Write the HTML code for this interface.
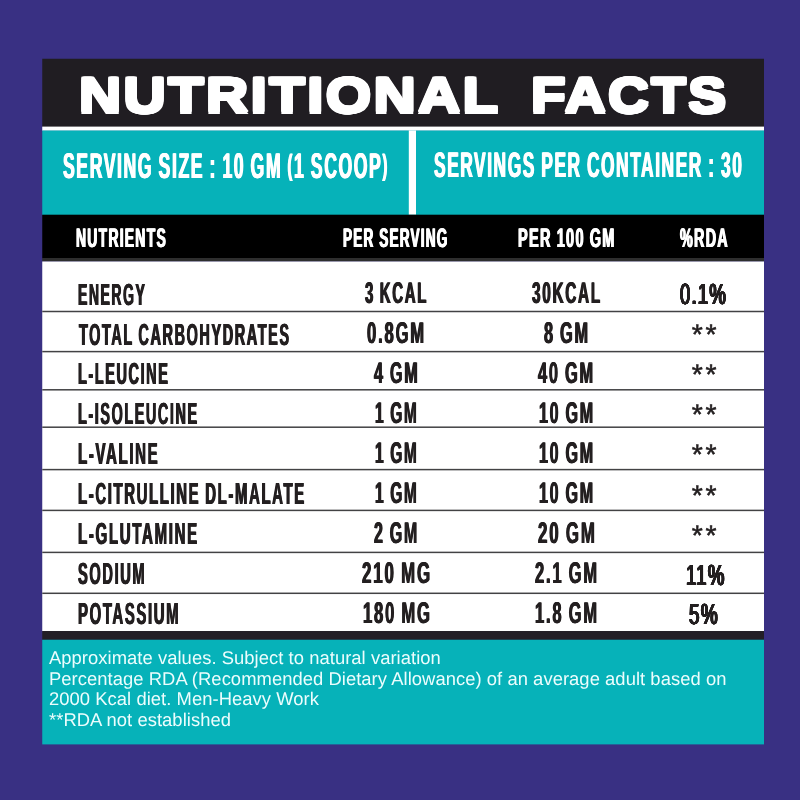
<!DOCTYPE html>
<html lang="en"><head><meta charset="utf-8"><title>Nutritional Facts</title>
<style>
html,body{margin:0;padding:0}
h1{margin:0;font:inherit}
body{width:800px;height:800px;background:#393083;position:relative;overflow:hidden;font-family:"Liberation Sans",Arial,sans-serif;text-rendering:geometricPrecision}
svg{position:absolute;left:0;top:0}
.t{position:absolute;display:block;white-space:pre;line-height:1em;transform-origin:0 0;font-weight:700;color:#fff}
.k{color:#231f20}
.r{font-weight:400}
.pa{font-size:.82em;position:relative;top:-.085em}
.st{position:absolute;font-weight:400;color:#231f20;line-height:1em;white-space:pre;-webkit-text-stroke:0.55px currentColor}
.fn{position:absolute;left:49px;margin:0;color:#ecfdfd;white-space:pre;letter-spacing:0.05px}
</style></head><body>
<svg width="800" height="800" viewBox="0 0 800 800" shape-rendering="geometricPrecision">

<rect x="42.25" y="58.75" width="721.75" height="68.25" fill="#201d22"/>
<rect x="42.25" y="126.60" width="721.75" height="4.20" fill="#fff"/>
<rect x="42.25" y="130.50" width="721.75" height="84.50" fill="#06b2b9"/>
<rect x="408.80" y="130.40" width="7.20" height="84.30" fill="#fff"/>
<rect x="42.25" y="214.70" width="721.75" height="43.50" fill="#000"/>
<rect x="42.25" y="258.00" width="721.75" height="3.50" fill="#2e2e2e"/>
<rect x="42.25" y="261.50" width="721.75" height="369.70" fill="#fff"/>
<rect x="42.25" y="631.00" width="721.75" height="8.90" fill="#231f26"/>
<rect x="42.25" y="639.75" width="721.75" height="104.65" fill="#06b2b9"/>
<rect x="42.25" y="310.75" width="721.75" height="1.50" fill="#424244"/>
<rect x="42.25" y="350.85" width="721.75" height="1.50" fill="#424244"/>
<rect x="42.25" y="389.05" width="721.75" height="1.50" fill="#424244"/>
<rect x="42.25" y="426.45" width="721.75" height="1.50" fill="#424244"/>
<rect x="42.25" y="468.85" width="721.75" height="1.50" fill="#424244"/>
<rect x="42.25" y="509.65" width="721.75" height="1.50" fill="#424244"/>
<rect x="42.25" y="551.65" width="721.75" height="1.50" fill="#424244"/>
<rect x="42.25" y="592.55" width="721.75" height="1.50" fill="#424244"/>
</svg>
<main>
<header><h1><span id="t1" class="t" style="left:78.95px;top:71.26px;font-size:49.78px;transform:scaleX(1.1739);letter-spacing:0.04em;word-spacing:0.00em;text-shadow:-1.28px -1.50px 0 currentColor,-1.28px 0.00px 0 currentColor,-1.28px 1.50px 0 currentColor,-0.64px -1.50px 0 currentColor,-0.64px 0.00px 0 currentColor,-0.64px 1.50px 0 currentColor,0.00px -1.50px 0 currentColor,0.00px 1.50px 0 currentColor,0.64px -1.50px 0 currentColor,0.64px 0.00px 0 currentColor,0.64px 1.50px 0 currentColor,1.28px -1.50px 0 currentColor,1.28px 0.00px 0 currentColor,1.28px 1.50px 0 currentColor;">NUTRITIONAL</span> <span id="t2" class="t" style="left:530.56px;top:71.21px;font-size:49.78px;transform:scaleX(1.1399);letter-spacing:0.04em;word-spacing:0.00em;text-shadow:-1.32px -1.50px 0 currentColor,-1.32px 0.00px 0 currentColor,-1.32px 1.50px 0 currentColor,-0.66px -1.50px 0 currentColor,-0.66px 0.00px 0 currentColor,-0.66px 1.50px 0 currentColor,0.00px -1.50px 0 currentColor,0.00px 1.50px 0 currentColor,0.66px -1.50px 0 currentColor,0.66px 0.00px 0 currentColor,0.66px 1.50px 0 currentColor,1.32px -1.50px 0 currentColor,1.32px 0.00px 0 currentColor,1.32px 1.50px 0 currentColor;">FACTS</span></h1></header>
<section class="serving"><span id="s1" class="t" style="left:62.97px;top:148.97px;font-size:35.76px;transform:scaleX(0.4931);letter-spacing:0.09em;word-spacing:-0.06em;text-shadow:1.01px 0 0 currentColor,-1.01px 0 0 currentColor;">SERVING SIZE : 10 GM <span class="pa">(</span>1 SCOOP<span class="pa">)</span></span>
<span id="s2" class="t" style="left:433.73px;top:147.92px;font-size:35.47px;transform:scaleX(0.4894);letter-spacing:0.09em;word-spacing:-0.06em;text-shadow:1.02px 0 0 currentColor,-1.02px 0 0 currentColor;">SERVINGS PER CONTAINER : 30</span></section>
<div class="table" role="table">
<div class="row head" role="row"><span id="h1" class="t" style="left:76.49px;top:224.57px;font-size:26.89px;transform:scaleX(0.5182);letter-spacing:0.09em;word-spacing:-0.03em;text-shadow:0.96px 0 0 currentColor,-0.96px 0 0 currentColor;">NUTRIENTS</span>
<span id="h2" class="t" style="left:343.37px;top:224.57px;font-size:26.89px;transform:scaleX(0.5054);letter-spacing:0.09em;word-spacing:-0.03em;text-shadow:0.99px 0 0 currentColor,-0.99px 0 0 currentColor;">PER SERVING</span>
<span id="h3" class="t" style="left:517.81px;top:224.57px;font-size:26.89px;transform:scaleX(0.5398);letter-spacing:0.09em;word-spacing:-0.03em;text-shadow:0.93px 0 0 currentColor,-0.93px 0 0 currentColor;">PER 100 GM</span>
<span id="h4" class="t" style="left:680.14px;top:224.58px;font-size:26.89px;transform:scaleX(0.5337);letter-spacing:0.09em;word-spacing:-0.03em;text-shadow:0.94px 0 0 currentColor,-0.94px 0 0 currentColor;">%RDA</span></div>
<div class="row" role="row"><span id="n0" class="t k" style="left:78.01px;top:279.58px;font-size:30.52px;transform:scaleX(0.4587);letter-spacing:0.11em;word-spacing:-0.05em;text-shadow:0.92px 0 0 currentColor,-0.92px 0 0 currentColor;">ENERGY</span>
<span id="a0" class="t k" style="left:365.04px;top:279.11px;font-size:29.94px;transform:scaleX(0.5013);letter-spacing:0.11em;word-spacing:-0.07em;text-shadow:0.84px 0 0 currentColor,-0.84px 0 0 currentColor;">3 KCAL</span>
<span id="b0" class="t k" style="left:531.94px;top:279.28px;font-size:29.94px;transform:scaleX(0.5130);letter-spacing:0.11em;word-spacing:-0.07em;text-shadow:0.82px 0 0 currentColor,-0.82px 0 0 currentColor;">30KCAL</span>
<span id="c0" class="t k r" style="left:680.48px;top:280.90px;font-size:29.22px;transform:scaleX(0.6301);letter-spacing:0.07em;word-spacing:0.00em;text-shadow:-0.98px -0.30px 0 currentColor,-0.98px 0.00px 0 currentColor,-0.98px 0.30px 0 currentColor,-0.49px -0.30px 0 currentColor,-0.49px 0.00px 0 currentColor,-0.49px 0.30px 0 currentColor,0.00px -0.30px 0 currentColor,0.00px 0.30px 0 currentColor,0.49px -0.30px 0 currentColor,0.49px 0.00px 0 currentColor,0.49px 0.30px 0 currentColor,0.98px -0.30px 0 currentColor,0.98px 0.00px 0 currentColor,0.98px 0.30px 0 currentColor;">0.1%</span></div>
<div class="row" role="row"><span id="n1" class="t k" style="left:78.78px;top:319.82px;font-size:30.52px;transform:scaleX(0.4740);letter-spacing:0.11em;word-spacing:-0.05em;text-shadow:0.89px 0 0 currentColor,-0.89px 0 0 currentColor;">TOTAL CARBOHYDRATES</span>
<span id="a1" class="t k" style="left:367.06px;top:319.17px;font-size:29.94px;transform:scaleX(0.5544);letter-spacing:0.11em;word-spacing:-0.07em;text-shadow:0.76px 0 0 currentColor,-0.76px 0 0 currentColor;">0.8GM</span>
<span id="b1" class="t k" style="left:543.68px;top:319.38px;font-size:29.94px;transform:scaleX(0.5437);letter-spacing:0.11em;word-spacing:-0.07em;text-shadow:0.77px 0 0 currentColor,-0.77px 0 0 currentColor;">8 GM</span>
<span class="st" style="left:691.72px;top:320.36px;font-size:28.30px;letter-spacing:2.70px">**</span></div>
<div class="row" role="row"><span id="n2" class="t k" style="left:77.98px;top:358.61px;font-size:30.52px;transform:scaleX(0.4740);letter-spacing:0.11em;word-spacing:-0.05em;text-shadow:0.89px 0 0 currentColor,-0.89px 0 0 currentColor;">L-LEUCINE</span>
<span id="a2" class="t k" style="left:373.93px;top:359.27px;font-size:29.94px;transform:scaleX(0.5406);letter-spacing:0.11em;word-spacing:-0.07em;text-shadow:0.78px 0 0 currentColor,-0.78px 0 0 currentColor;">4 GM</span>
<span id="b2" class="t k" style="left:538.32px;top:358.55px;font-size:29.94px;transform:scaleX(0.5457);letter-spacing:0.11em;word-spacing:-0.07em;text-shadow:0.77px 0 0 currentColor,-0.77px 0 0 currentColor;">40 GM</span>
<span class="st" style="left:691.72px;top:360.40px;font-size:28.30px;letter-spacing:2.70px">**</span></div>
<div class="row" role="row"><span id="n3" class="t k" style="left:77.98px;top:398.96px;font-size:30.52px;transform:scaleX(0.4721);letter-spacing:0.11em;word-spacing:-0.05em;text-shadow:0.89px 0 0 currentColor,-0.89px 0 0 currentColor;">L-ISOLEUCINE</span>
<span id="a3" class="t k" style="left:375.31px;top:399.38px;font-size:29.94px;transform:scaleX(0.5167);letter-spacing:0.11em;word-spacing:-0.07em;text-shadow:0.81px 0 0 currentColor,-0.81px 0 0 currentColor;">1 GM</span>
<span id="b3" class="t k" style="left:539.28px;top:398.63px;font-size:29.94px;transform:scaleX(0.5361);letter-spacing:0.11em;word-spacing:-0.07em;text-shadow:0.78px 0 0 currentColor,-0.78px 0 0 currentColor;">10 GM</span>
<span class="st" style="left:691.72px;top:400.44px;font-size:28.30px;letter-spacing:2.70px">**</span></div>
<div class="row" role="row"><span id="n4" class="t k" style="left:77.94px;top:439.34px;font-size:30.52px;transform:scaleX(0.4920);letter-spacing:0.11em;word-spacing:-0.05em;text-shadow:0.85px 0 0 currentColor,-0.85px 0 0 currentColor;">L-VALINE</span>
<span id="a4" class="t k" style="left:375.31px;top:438.53px;font-size:29.94px;transform:scaleX(0.5167);letter-spacing:0.11em;word-spacing:-0.07em;text-shadow:0.81px 0 0 currentColor,-0.81px 0 0 currentColor;">1 GM</span>
<span id="b4" class="t k" style="left:539.28px;top:438.71px;font-size:29.94px;transform:scaleX(0.5361);letter-spacing:0.11em;word-spacing:-0.07em;text-shadow:0.78px 0 0 currentColor,-0.78px 0 0 currentColor;">10 GM</span>
<span class="st" style="left:691.72px;top:440.48px;font-size:28.30px;letter-spacing:2.70px">**</span></div>
<div class="row" role="row"><span id="n5" class="t k" style="left:77.95px;top:479.06px;font-size:30.52px;transform:scaleX(0.4881);letter-spacing:0.11em;word-spacing:-0.05em;text-shadow:0.86px 0 0 currentColor,-0.86px 0 0 currentColor;">L-CITRULLINE DL-MALATE</span>
<span id="a5" class="t k" style="left:375.31px;top:478.60px;font-size:29.94px;transform:scaleX(0.5167);letter-spacing:0.11em;word-spacing:-0.07em;text-shadow:0.81px 0 0 currentColor,-0.81px 0 0 currentColor;">1 GM</span>
<span id="b5" class="t k" style="left:539.28px;top:478.78px;font-size:29.94px;transform:scaleX(0.5361);letter-spacing:0.11em;word-spacing:-0.07em;text-shadow:0.78px 0 0 currentColor,-0.78px 0 0 currentColor;">10 GM</span>
<span class="st" style="left:691.72px;top:480.52px;font-size:28.30px;letter-spacing:2.70px">**</span></div>
<div class="row" role="row"><span id="n6" class="t k" style="left:77.94px;top:518.76px;font-size:30.52px;transform:scaleX(0.4936);letter-spacing:0.11em;word-spacing:-0.05em;text-shadow:0.85px 0 0 currentColor,-0.85px 0 0 currentColor;">L-GLUTAMINE</span>
<span id="a6" class="t k" style="left:373.96px;top:518.68px;font-size:29.94px;transform:scaleX(0.5338);letter-spacing:0.11em;word-spacing:-0.07em;text-shadow:0.79px 0 0 currentColor,-0.79px 0 0 currentColor;">2 GM</span>
<span id="b6" class="t k" style="left:537.63px;top:518.86px;font-size:29.94px;transform:scaleX(0.5634);letter-spacing:0.11em;word-spacing:-0.07em;text-shadow:0.75px 0 0 currentColor,-0.75px 0 0 currentColor;">20 GM</span>
<span class="st" style="left:691.72px;top:520.56px;font-size:28.30px;letter-spacing:2.70px">**</span></div>
<div class="row" role="row"><span id="n7" class="t k" style="left:78.48px;top:559.06px;font-size:30.52px;transform:scaleX(0.4797);letter-spacing:0.11em;word-spacing:-0.05em;text-shadow:0.88px 0 0 currentColor,-0.88px 0 0 currentColor;">SODIUM</span>
<span id="a7" class="t k" style="left:361.73px;top:558.75px;font-size:29.94px;transform:scaleX(0.5638);letter-spacing:0.11em;word-spacing:-0.07em;text-shadow:0.74px 0 0 currentColor,-0.74px 0 0 currentColor;">210 MG</span>
<span id="b7" class="t k" style="left:534.84px;top:558.95px;font-size:29.94px;transform:scaleX(0.5520);letter-spacing:0.11em;word-spacing:-0.07em;text-shadow:0.76px 0 0 currentColor,-0.76px 0 0 currentColor;">2.1 GM</span>
<span id="c7" class="t k r" style="left:685.73px;top:561.82px;font-size:29.22px;transform:scaleX(0.6332);letter-spacing:0.07em;word-spacing:0.00em;text-shadow:-0.98px -0.30px 0 currentColor,-0.98px 0.00px 0 currentColor,-0.98px 0.30px 0 currentColor,-0.49px -0.30px 0 currentColor,-0.49px 0.00px 0 currentColor,-0.49px 0.30px 0 currentColor,0.00px -0.30px 0 currentColor,0.00px 0.30px 0 currentColor,0.49px -0.30px 0 currentColor,0.49px 0.00px 0 currentColor,0.49px 0.30px 0 currentColor,0.98px -0.30px 0 currentColor,0.98px 0.00px 0 currentColor,0.98px 0.30px 0 currentColor;">11%</span></div>
<div class="row" role="row"><span id="n8" class="t k" style="left:77.95px;top:598.62px;font-size:30.52px;transform:scaleX(0.4883);letter-spacing:0.11em;word-spacing:-0.05em;text-shadow:0.86px 0 0 currentColor,-0.86px 0 0 currentColor;">POTASSIUM</span>
<span id="a8" class="t k" style="left:362.94px;top:598.81px;font-size:29.94px;transform:scaleX(0.5536);letter-spacing:0.11em;word-spacing:-0.07em;text-shadow:0.76px 0 0 currentColor,-0.76px 0 0 currentColor;">180 MG</span>
<span id="b8" class="t k" style="left:534.85px;top:599.00px;font-size:29.94px;transform:scaleX(0.5520);letter-spacing:0.11em;word-spacing:-0.07em;text-shadow:0.76px 0 0 currentColor,-0.76px 0 0 currentColor;">1.8 GM</span>
<span id="c8" class="t k r" style="left:689.37px;top:600.94px;font-size:29.07px;transform:scaleX(0.6488);letter-spacing:0.07em;word-spacing:0.00em;text-shadow:-0.96px -0.30px 0 currentColor,-0.96px 0.00px 0 currentColor,-0.96px 0.30px 0 currentColor,-0.48px -0.30px 0 currentColor,-0.48px 0.00px 0 currentColor,-0.48px 0.30px 0 currentColor,0.00px -0.30px 0 currentColor,0.00px 0.30px 0 currentColor,0.48px -0.30px 0 currentColor,0.48px 0.00px 0 currentColor,0.48px 0.30px 0 currentColor,0.96px -0.30px 0 currentColor,0.96px 0.00px 0 currentColor,0.96px 0.30px 0 currentColor;">5%</span></div>
</div>
<footer><p class="fn" style="top:648.33px;font-size:18.40px;line-height:20.58px">Approximate values. Subject to natural variation
Percentage RDA (Recommended Dietary Allowance) of an average adult based on
2000 Kcal diet. Men-Heavy Work
**RDA not established</p></footer>
</main>
</body></html>
